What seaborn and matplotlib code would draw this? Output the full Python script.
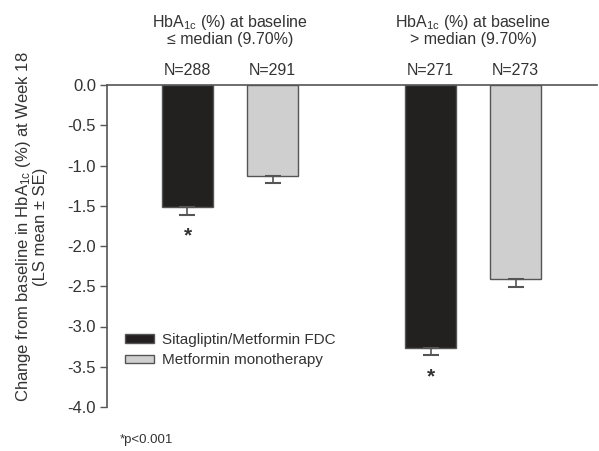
import pandas as pd
import seaborn as sns
import matplotlib.pyplot as plt
from matplotlib.patches import Patch

# data
groups = ["<= median", "> median"]
treatments = ["Sitagliptin/Metformin FDC", "Metformin monotherapy"]
ls_mean = [[-1.52, -1.13], [-3.27, -2.41]]   # per group: [FDC, mono]
se = [[0.09, 0.09], [0.09, 0.10]]
n_labels = [["N=288", "N=291"], ["N=271", "N=273"]]
group_titles = ["HbA$_{\\mathrm{1c}}$ (%) at baseline\n≤ median (9.70%)",
                "HbA$_{\\mathrm{1c}}$ (%) at baseline\n> median (9.70%)"]
significant = [[True, False], [True, False]]

rows = []
for gi, g in enumerate(groups):
    for ti, t in enumerate(treatments):
        rows.append({"group": g, "treatment": t, "mean": ls_mean[gi][ti],
                     "se": se[gi][ti], "n": n_labels[gi][ti], "sig": significant[gi][ti]})
df = pd.DataFrame(rows)

sns.set_style("white")
plt.rcParams['font.family'] = ['Liberation Sans', 'DejaVu Sans']
plt.rcParams['mathtext.fontset'] = 'custom'
plt.rcParams['mathtext.rm'] = 'Liberation Sans'
plt.rcParams['mathtext.it'] = 'Liberation Sans:italic'
txt = '#333333'
edge = '#555555'

fig = plt.figure(figsize=(5.99, 4.51), dpi=100)
ax = fig.add_axes([107 / 599, 1 - 407 / 451, 490 / 599, 322 / 451])

colors = {"Sitagliptin/Metformin FDC": "#231f20", "Metformin monotherapy": "#cfcfcf"}
sns.barplot(data=df, x="group", y="mean", hue="treatment", palette=colors,
            width=0.7, gap=0.4, errorbar=None, legend=False,
            edgecolor=edge, linewidth=1.0, ax=ax)

# lower error bars and stars, matched to bars by position
bars = sorted(ax.patches, key=lambda p: p.get_x())
for p, (_, r) in zip(bars, df.iterrows()):
    xc = p.get_x() + p.get_width() / 2
    ax.errorbar([xc], [r["mean"]], yerr=[[r["se"]], [0]], fmt='none',
                ecolor=edge, elinewidth=1.2, capsize=5.5, capthick=1.5)
    ax.text(xc, 0.09, r["n"], ha='center', va='bottom', fontsize=11.5, color=txt)
    if r["sig"]:
        ax.text(xc, r["mean"] - r["se"] - 0.15, "*", ha='center', va='top',
                fontsize=15, fontweight='bold', color=txt)

for gi, title in enumerate(group_titles):
    ax.text(gi, 0.47, title, ha='center', va='bottom', fontsize=11.5,
            color=txt, linespacing=1.0)

ax.set_xlim(-0.506, 1.509)
ax.set_ylim(-4.0, 0.0)
ax.set_yticks([0, -0.5, -1.0, -1.5, -2.0, -2.5, -3.0, -3.5, -4.0])
ax.set_yticklabels([f"{v:.1f}" for v in ax.get_yticks()])
ax.set_xticks([])
ax.set_xlabel("")
ax.set_ylabel("")
ax.tick_params(axis='y', left=True, length=5, width=1, color=edge,
               labelsize=12, labelcolor=txt, pad=3)
for s in ['right', 'bottom']:
    ax.spines[s].set_visible(False)
for s in ['left', 'top']:
    ax.spines[s].set_color(edge)
    ax.spines[s].set_linewidth(1.2)
ax.patch.set_visible(False)

fig.text(31 / 599, 1 - 227 / 451,
         "Change from baseline in HbA$_{\\mathrm{1c}}$ (%) at Week 18\n(LS mean ± SE)",
         rotation=90, ha='center', va='center', fontsize=12, color=txt,
         linespacing=1.0)

handles = [Patch(facecolor=colors[t], edgecolor=edge, linewidth=1.0) for t in treatments]
ax.legend(handles, treatments, loc='upper left', bbox_to_anchor=(0.037, 0.23),
          frameon=False, fontsize=11, handlelength=1.9, handleheight=0.45,
          handletextpad=0.5, labelspacing=0.4, borderpad=0, borderaxespad=0,
          labelcolor=txt)

fig.text(120 / 599, 1 - 440 / 451, "*p<0.001", fontsize=9.5, color=txt,
         ha='left', va='center')

fig.savefig("out.png", dpi=100)
